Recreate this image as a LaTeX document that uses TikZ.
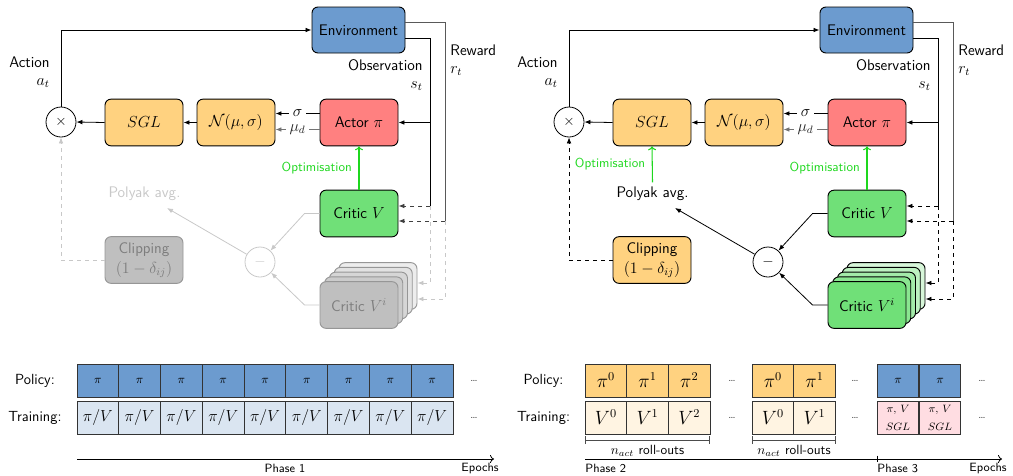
\documentclass[tikz,border=0pt]{standalone}
\usetikzlibrary{calc,arrows.meta}
\definecolor{envblue}{RGB}{108,155,207}
\definecolor{sglor}{RGB}{255,210,128}
\definecolor{actred}{RGB}{255,128,128}
\definecolor{critgr}{RGB}{112,224,120}
\definecolor{optgr}{RGB}{30,215,30}
\definecolor{lightblue}{RGB}{218,229,241}
\definecolor{lightor}{RGB}{255,244,226}
\definecolor{myrose}{RGB}{255,221,226}
\definecolor{ghostfill}{RGB}{191,191,191}
\definecolor{ghostline}{RGB}{150,150,150}
\definecolor{ghosttext}{RGB}{125,125,125}
\definecolor{faint}{RGB}{200,200,200}
\newcommand\myfs[1]{\fontsize{#1}{#1}\selectfont}
\tikzset{
  arr/.style={->},
  rbox/.style={draw, rounded corners=4.5pt, minimum width=58.5pt, minimum height=35pt, inner sep=1pt, font=\sffamily\myfs{11.5}, line width=0.7pt},
  envbox/.style={rbox, fill=envblue, minimum width=69.75pt, minimum height=34.5pt},
  orbox/.style={rbox, fill=sglor},
  actbox/.style={rbox, fill=actred},
  critbox/.style={rbox, fill=critgr},
  lab/.style={fill=white, inner xsep=2.5pt, inner ysep=0pt, font=\myfs{11.5}},
  txt/.style={inner sep=0pt, font=\sffamily\myfs{11.5}},
  optarr/.style={-{To[length=3pt,width=6pt]}, optgr, line width=0.8pt},
  optlab/.style={left, text=optgr, font=\sffamily\myfs{9.8}, inner sep=0pt, xshift=-5pt},
  cell/.style={draw=black!80, line width=0.7pt, minimum width=31.33pt, minimum height=24.75pt, inner sep=0pt},
  small/.style={font=\sffamily\myfs{9}},
}
\newcommand\toppanel{%
  \node[envbox] (env) at (358.5,30) {Environment};
  \node[orbox] (sgl) at (144,122.5) {$SGL$};
  \node[orbox] (norm) at (236,122.5) {$\mathcal{N}(\mu,\sigma)$};
  \node[actbox] (actor) at (359,122.5) {Actor $\pi$};
  \node[critbox] (critic) at (359,213.5) {Critic $V$};
  \foreach \k in {4,3,2,1}{%
    \pgfmathtruncatemacro\pct{100-18*\k}%
    \node[rbox, stback, fill=stcol!\pct!white] (st\k) at ({359+4.75*\k},{305-4.75*\k}) {};}
  \node[rbox, stfront] (front) at (359,305) {Critic $V^i$};
  \node[circle, minimum size=22.5pt, inner sep=0pt, draw, line width=0.6pt, font=\myfs{11}] (times) at (61,122) {$\times$};
  \node[circle, minimum size=22.5pt, inner sep=0pt, line width=0.6pt, minusc, font=\myfs{11}] (minus) at (260,262) {$-$};
  \node[rbox, clipbox, align=center, font=\sffamily\fontsize{11.5}{15}\selectfont] (clip) at (144,260) {Clipping\\$(1-\delta_{ij})$};
  \node[polyakc, font=\sffamily\myfs{11.5}] (polyak) at (144.5,194) {Polyak avg.};
  \coordinate (ptip) at (167,208);
  \coordinate (obsx) at (430,0);
  \coordinate (rewx) at (445,0);
  \coordinate (cin1) at ([yshift=5.625pt]critic.east);
  \coordinate (cin2) at ([yshift=-5.625pt]critic.east);
  \coordinate (sin1) at ([yshift=2.25pt]st4.east);
  \coordinate (sin2) at ([yshift=-9.75pt]st4.east);
  \node[txt, anchor=east] (lact) at (50,62) {Action};
  \node[txt, anchor=east] (lat) at (50,83) {$a_t$};
  \node[txt, anchor=east] (lobs) at (423,65) {Observation};
  \node[txt, anchor=east] (lst) at (423,86) {$s_t$};
  \node[txt, anchor=west] (lrew) at (450,50) {Reward};
  \node[txt, anchor=west] (lrt) at (450,71) {$r_t$};
  \draw[arr] (times.north) |- (env.west);
  \draw[arr] (sgl.west) -- (times.east);
  \draw[arr] (norm.west) -- (sgl.east);
  \draw[arr] ([yshift=6.75pt]actor.west) -- node[lab]{$\sigma$} ([yshift=6.75pt]norm.east);
  \draw[arr, black!55] ([yshift=-5.25pt]actor.west) -- node[lab, text=black!85]{$\mu_d$} ([yshift=-5.25pt]norm.east);
  \draw[optarr] (critic.north) -- node[optlab]{Optimisation} (actor.south);
  \draw ([yshift=-6pt]env.east) -| (obsx |- cin1);
  \draw[arr] (obsx |- actor.east) -- (actor.east);
  \draw[arr, critdash] (obsx |- cin1) -- (cin1);
  \draw[arr, lowdash] (obsx |- cin1) -- (obsx |- sin1) -- (sin1);
  \draw[rewc] ([yshift=6pt]env.east) -| (rewx |- cin2);
  \draw[arr, critdash] (rewx |- cin2) -- (cin2);
  \draw[arr, lowdash] (rewx |- cin2) -- (rewx |- sin2) -- (sin2);
  \draw[arr, lowline] (critic.west) -- ([xshift=-11.25pt]critic.west) -- (minus);
  \draw[arr, lowline] (front.west) -- ([xshift=-11.25pt]front.west) -- (minus);
  \draw[arr, lowline] (minus) -- (ptip);
  \draw[arr, clipdash] (clip.west) -| (times.south);
}
\begin{document}
\begin{tikzpicture}[x=0.75pt, y=-0.75pt, >={Latex[length=4.5pt,width=3.5pt]}, line width=0.6pt]
\useasboundingbox (0,0) rectangle (1013,475);
% ---------- left panel ----------
\begin{scope}[name prefix=a-,
  stback/.style={draw=ghostline}, stfront/.style={draw=ghostline, fill=ghostfill, text=ghosttext},
  minusc/.style={draw=faint, text=faint}, clipbox/.style={draw=ghostline, fill=ghostfill, text=ghosttext},
  polyakc/.style={text=faint}, lowline/.style={faint}, lowdash/.style={faint, dashed},
  clipdash/.style={faint, dashed}, critdash/.style={black!75, dashed}, rewc/.style={black!65}]
  \colorlet{stcol}{ghostfill}
  \toppanel
\end{scope}
% ---------- right panel ----------
\begin{scope}[name prefix=b-, shift={(508,0)},
  stback/.style={draw=black}, stfront/.style={fill=critgr},
  minusc/.style={draw=black}, clipbox/.style={fill=sglor},
  polyakc/.style={}, lowline/.style={black}, lowdash/.style={dashed},
  clipdash/.style={dashed}, critdash/.style={dashed}, rewc/.style={black!65}]
  \colorlet{stcol}{critgr}
  \toppanel
  \draw[optarr] (polyak.north) -- node[optlab]{Optimisation} (sgl.south);
\end{scope}
% ---------- bottom left ----------
\node[txt, font=\sffamily\myfs{11}] (lpol) at (35,380.5) {Policy:};
\node[txt, font=\sffamily\myfs{11}] (ltr) at (35,417.5) {Training:};
\foreach \i in {1,...,9}{
  \pgfmathsetmacro\cx{77+41.78*(\i-0.5)}
  \node[cell, fill=envblue, font=\myfs{9}] (p\i) at (\cx,380.5) {$\pi$};
  \node[cell, fill=lightblue, font=\myfs{12.5}] (t\i) at (\cx,417.5) {$\pi/V$};
}
\node[small, text=black!70] (ld1) at (474,380.5) {\dots};
\node[small, text=black!70] (ld2) at (474,417.5) {\dots};
\coordinate (ax0) at (77,459);
\coordinate (ax1) at (494,459);
\draw[-{To[length=3pt,width=6pt]}] (ax0) -- (ax1);
\node[small] (ph1) at (285,468) {Phase 1};
\node[small] (ep1) at (480,468) {Epochs};
% ---------- bottom right ----------
\node[txt, font=\sffamily\myfs{11}] (rpol) at (543.5,380.5) {Policy:};
\node[txt, font=\sffamily\myfs{11}] (rtr) at (543.5,417.5) {Training:};
\foreach \i/\s in {0/585,1/585,2/585}{
  \pgfmathsetmacro\cx{\s+41.7*(\i+0.5)}
  \node[cell, fill=sglor, font=\myfs{13.5}] (q\i) at (\cx,380.5) {$\pi^{\i}$};
  \node[cell, fill=lightor, font=\myfs{13.5}] (u\i) at (\cx,417.5) {$V^{\i}$};
}
\foreach \i in {0,1}{
  \pgfmathsetmacro\cx{752+41.7*(\i+0.5)}
  \node[cell, fill=sglor, font=\myfs{13.5}] (qq\i) at (\cx,380.5) {$\pi^{\i}$};
  \node[cell, fill=lightor, font=\myfs{13.5}] (uu\i) at (\cx,417.5) {$V^{\i}$};
}
\foreach \i in {0,1}{
  \pgfmathsetmacro\cx{877+42*(\i+0.5)}
  \node[cell, fill=envblue, font=\myfs{9}] (qqq\i) at (\cx,380.5) {$\pi$};
  \node[cell, fill=myrose, align=center, font=\fontsize{8}{13.5}\selectfont] (uuu\i) at (\cx,417.5) {$\pi$, $V$\\$SGL$};
}
\foreach \x/\n in {732/a,855/b,982/c}{
  \node[small, text=black!70] (rd\n1) at (\x,380.5) {\dots};
  \node[small, text=black!70] (rd\n2) at (\x,417.5) {\dots};
}
\coordinate (br1a) at (585,440); \coordinate (br1b) at (710,440);
\coordinate (br2a) at (752,440); \coordinate (br2b) at (836,440);
\draw[black!70, {Bar[width=6pt]}-{Bar[width=6pt]}] (br1a) -- (br1b);
\draw[black!70, {Bar[width=6pt]}-{Bar[width=6pt]}] (br2a) -- (br2b);
\node[font=\sffamily\myfs{10}, inner sep=0pt] (nr1) at (647.5,451) {$n_{act}$ roll-outs};
\node[font=\sffamily\myfs{10}, inner sep=0pt] (nr2) at (794,451) {$n_{act}$ roll-outs};
\coordinate (bx0) at (585,459);
\coordinate (bx1) at (1002,459);
\coordinate (tk) at (877,459);
\draw[-{To[length=3pt,width=6pt]}] (bx0) -- (bx1);
\draw ([yshift=2.5pt]tk) -- ([yshift=-2.5pt]tk);
\node[small, anchor=west, inner sep=0pt] (ph2) at (585,468.5) {Phase 2};
\node[small, anchor=west, inner sep=0pt] (ph3) at (877,468.5) {Phase 3};
\node[small] (ep2) at (988,468) {Epochs};
\end{tikzpicture}
\end{document}
